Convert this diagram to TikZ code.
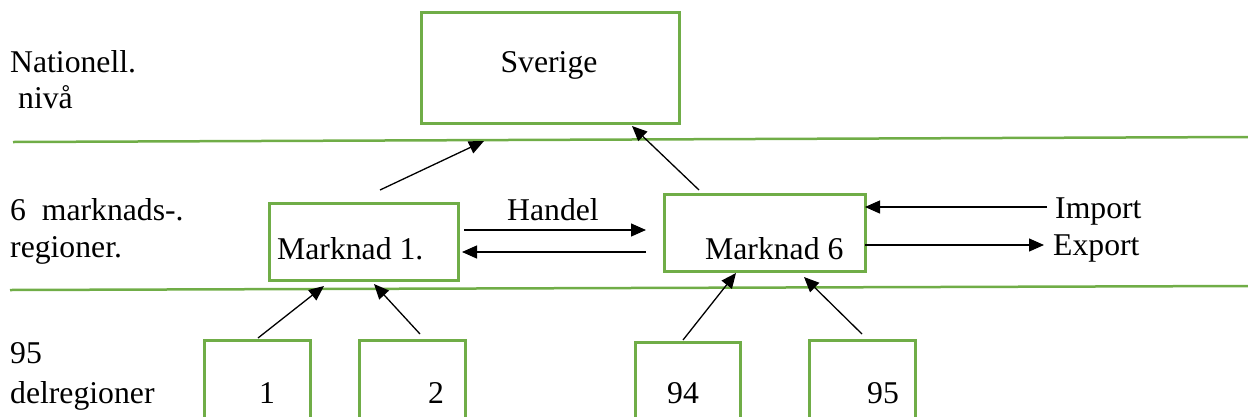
\documentclass[tikz,border=0pt]{standalone}
\usepackage{fontspec}
\setmainfont{Liberation Serif}
\usetikzlibrary{arrows.meta}
\definecolor{grn}{RGB}{112,173,71}
\begin{document}
\begin{tikzpicture}[x=1pt,y=-1pt,
  box/.style={draw=grn, line width=2.5pt, rectangle, inner sep=0pt, anchor=north west},
  lbl/.style={inner sep=0pt, anchor=base west, font=\fontsize{31.7}{36}\selectfont},
  clbl/.style={lbl, anchor=base},
  arr/.style={-{Triangle[length=15pt,width=13pt]}, line width=1.3pt},
  sepline/.style={draw=grn, line width=2.5pt}]
\useasboundingbox (0,0) rectangle (1248,416);

% separator lines
\coordinate (s1a) at (13,142);
\coordinate (s1b) at (1248,137);
\coordinate (s2a) at (10,290);
\coordinate (s2b) at (1248,286);
\draw[sepline] (s1a) -- (s1b);
\draw[sepline] (s2a) -- (s2b);

% boxes
\node[box, minimum width=258pt, minimum height=111pt] (sv) at (420,11) {};
\node[box, minimum width=189pt, minimum height=77pt] (m1) at (268,202) {};
\node[box, minimum width=201pt, minimum height=77pt] (m6) at (663,193) {};
\node[box, minimum width=106pt, minimum height=84pt] (b1) at (203,339) {};
\node[box, minimum width=106pt, minimum height=84pt] (b2) at (358,339) {};
\node[box, minimum width=105pt, minimum height=82pt] (b94) at (634,341) {};
\node[box, minimum width=106pt, minimum height=84pt] (b95) at (808,339) {};

% texts
\node[clbl] (tsv) at (549,72) {Sverige};
\node[lbl] (tm1) at (277,259) {Marknad 1.};
\node[lbl] (tm6) at (705,259) {Marknad 6};
\node[lbl] (thandel) at (507,220) {Handel};
\node[lbl] (timp) at (1055,218) {Import};
\node[lbl] (texp) at (1053,255) {Export};
\node[clbl] (t1) at (267,403) {1};
\node[clbl] (t2) at (436,403) {2};
\node[clbl] (t94) at (683,403) {94};
\node[clbl] (t95) at (883,403) {95};
\node[lbl] (l1) at (10,72) {Nationell.};
\node[lbl] (l2) at (18,108) {nivå};
\node[lbl] (l3) at (10,220) {6\ \ marknads-.};
\node[lbl] (l4) at (10,257) {regioner.};
\node[lbl] (l5) at (10,363) {95};
\node[lbl] (l6) at (10,403) {delregioner};

% arrow end points
\coordinate (a1s) at (380,190);  \coordinate (a1e) at (484,141);
\coordinate (a2s) at (699,190);  \coordinate (a2e) at (632,126);
\coordinate (h1s) at (464,230);  \coordinate (h1e) at (646,230);
\coordinate (h2s) at (646,252);  \coordinate (h2e) at (462,252);
\coordinate (is) at (1047,207);  \coordinate (ie) at (865,207);
\coordinate (es) at (865,245);   \coordinate (ee) at (1044,245);
\coordinate (c1s) at (258,338);  \coordinate (c1e) at (324,286);
\coordinate (c2s) at (420,334);  \coordinate (c2e) at (374,284);
\coordinate (c3s) at (683,340);  \coordinate (c3e) at (736,273);
\coordinate (c4s) at (862,334);  \coordinate (c4e) at (804,277);

\draw[arr] (a1s) -- (a1e);
\draw[arr] (a2s) -- (a2e);
\draw[arr] (h1s) -- (h1e);
\draw[arr] (h2s) -- (h2e);
\draw[arr] (is) -- (ie);
\draw[arr] (es) -- (ee);
\draw[arr] (c1s) -- (c1e);
\draw[arr] (c2s) -- (c2e);
\draw[arr] (c3s) -- (c3e);
\draw[arr] (c4s) -- (c4e);
\end{tikzpicture}
\end{document}
